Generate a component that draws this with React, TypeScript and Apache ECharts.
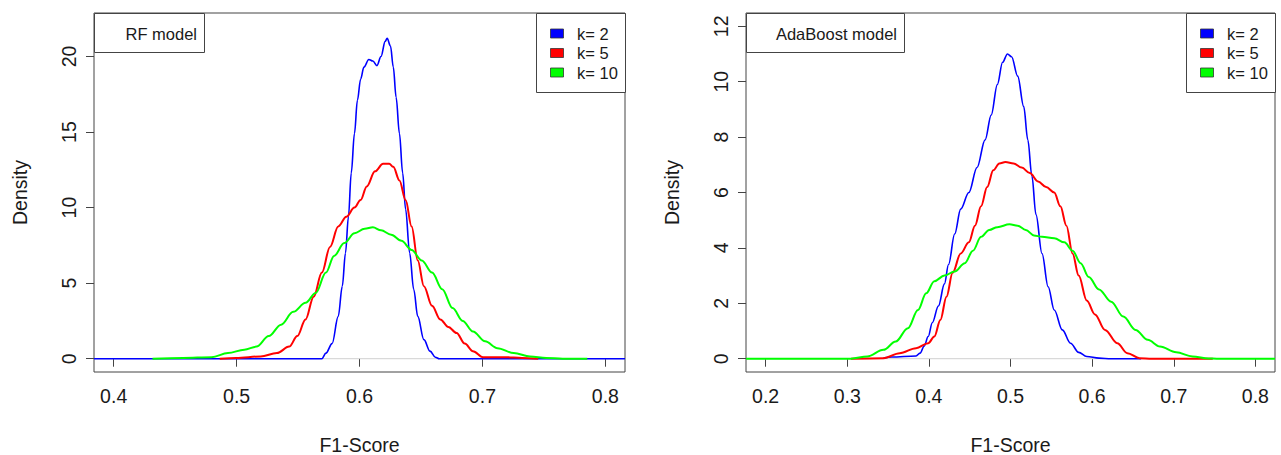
import React, { useEffect, useRef } from "react";
import * as echarts from "echarts";

// ---- data ----
const panelTitles = ["RF model", "AdaBoost model"];
const legendLabels = ["k= 2", "k= 5", "k= 10"];
const seriesColors = ["#0000ff", "#ff0000", "#00ff00"];

const rfXLim = [0.4, 0.8];
const rfYLim = [0, 22];
const rfXTicks = [0.4, 0.5, 0.6, 0.7, 0.8];
const rfYTicks = [0, 5, 10, 15, 20];

const adaXLim = [0.2, 0.8];
const adaYLim = [0, 12];
const adaXTicks = [0.2, 0.3, 0.4, 0.5, 0.6, 0.7, 0.8];
const adaYTicks = [0, 2, 4, 6, 8, 10, 12];

// RF model densities
const rfK2 = [
  [0.384, 0], [0.5694, 0], [0.5727, 0.37], [0.5777, 1.0], [0.5827, 2.8], [0.586, 4.8],
  [0.5886, 7.0], [0.591, 9.4], [0.5933, 12.3], [0.5959, 14.9], [0.5983, 17.1],
  [0.6009, 18.5], [0.6036, 19.3], [0.6076, 19.8], [0.6109, 19.7], [0.6142, 19.4],
  [0.6175, 20.0], [0.6209, 21.0], [0.6225, 21.2], [0.6252, 20.7], [0.6275, 19.3],
  [0.6298, 17.3], [0.6325, 14.9], [0.6351, 12.3], [0.6375, 9.9], [0.6408, 7.0],
  [0.6441, 4.6], [0.6474, 2.8], [0.6524, 1.26], [0.6574, 0.5], [0.6617, 0.1],
  [0.665, 0], [0.816, 0],
];
const rfK5 = [
  [0.4863, 0], [0.4996, 0.05], [0.5196, 0.15], [0.5328, 0.37], [0.5428, 0.8],
  [0.5494, 1.5], [0.5561, 2.6], [0.5627, 4.1], [0.5694, 5.7], [0.576, 7.4],
  [0.5827, 8.75], [0.5893, 9.4], [0.5959, 10.0], [0.6009, 10.5], [0.6059, 11.4],
  [0.6126, 12.4], [0.6192, 12.9], [0.6242, 12.9], [0.6275, 12.7], [0.6325, 11.8],
  [0.6375, 10.5], [0.6424, 8.75], [0.6474, 6.5], [0.6524, 4.8], [0.659, 3.5],
  [0.6657, 2.6], [0.6723, 2.1], [0.679, 1.7], [0.6856, 1.0], [0.6923, 0.5],
  [0.7006, 0.1], [0.7188, 0.1], [0.7321, 0.05], [0.7454, 0],
];
const rfK10 = [
  [0.4316, 0], [0.4565, 0.05], [0.4797, 0.1], [0.493, 0.37], [0.5063, 0.6],
  [0.5162, 0.8], [0.5262, 1.5], [0.5362, 2.25], [0.5461, 3.1], [0.5561, 3.7],
  [0.5644, 4.35], [0.5727, 5.7], [0.5793, 6.8], [0.5876, 7.65], [0.5959, 8.3],
  [0.6042, 8.6], [0.6109, 8.7], [0.6175, 8.5], [0.6258, 8.2], [0.6341, 7.8],
  [0.6424, 7.2], [0.6507, 6.5], [0.659, 5.7], [0.6673, 4.6], [0.6757, 3.35],
  [0.684, 2.5], [0.6923, 1.8], [0.7022, 1.15], [0.7122, 0.7], [0.7255, 0.37],
  [0.7388, 0.15], [0.752, 0.05], [0.7653, 0], [0.7853, 0],
];

// AdaBoost model densities
const adaK2 = [
  [0.3444, 0.02], [0.3544, 0.06], [0.3843, 0.1], [0.3892, 0.2], [0.3942, 0.45],
  [0.3992, 0.8], [0.4042, 1.3], [0.4117, 1.9], [0.4191, 2.7], [0.4241, 3.4],
  [0.4316, 4.5], [0.439, 5.4], [0.449, 6.0], [0.459, 6.9], [0.4689, 7.9],
  [0.4764, 8.8], [0.4839, 9.9], [0.4903, 10.7], [0.4963, 11.0], [0.5013, 10.9],
  [0.5088, 10.2], [0.5162, 9.1], [0.5212, 7.9], [0.5262, 6.6], [0.5312, 5.2],
  [0.5386, 3.8], [0.5461, 2.6], [0.5536, 1.76], [0.5635, 1.04], [0.5735, 0.56],
  [0.5835, 0.23], [0.5934, 0.08], [0.6084, 0.02], [0.6233, 0], [0.66, 0],
];
const adaK5 = [
  [0.3046, 0], [0.3444, 0.02], [0.3643, 0.2], [0.3843, 0.38], [0.3992, 0.56],
  [0.4067, 0.8], [0.4141, 1.4], [0.4216, 2.24], [0.4291, 3.1], [0.439, 3.8],
  [0.449, 4.2], [0.4565, 4.8], [0.4639, 5.5], [0.4714, 6.2], [0.4789, 6.8],
  [0.4863, 7.05], [0.4938, 7.1], [0.5038, 7.05], [0.5137, 6.9], [0.5237, 6.7],
  [0.5337, 6.4], [0.5436, 6.2], [0.5536, 6.0], [0.5611, 5.5], [0.5685, 4.8],
  [0.576, 3.8], [0.5835, 3.0], [0.5934, 2.1], [0.6034, 1.6], [0.6158, 1.04],
  [0.6308, 0.56], [0.6432, 0.2], [0.6582, 0.02], [0.6731, 0], [0.7478, 0],
];
const adaK10 = [
  [0.176, 0], [0.3046, 0], [0.3245, 0.08], [0.3444, 0.32], [0.3594, 0.62],
  [0.3743, 1.1], [0.3867, 1.76], [0.3967, 2.36], [0.4067, 2.8], [0.4191, 3.0],
  [0.4316, 3.15], [0.444, 3.45], [0.454, 3.9], [0.4639, 4.4], [0.4739, 4.65],
  [0.4839, 4.75], [0.4988, 4.85], [0.5088, 4.8], [0.5187, 4.65], [0.5287, 4.45],
  [0.5386, 4.4], [0.5536, 4.35], [0.566, 4.2], [0.576, 3.9], [0.5859, 3.45],
  [0.5959, 2.95], [0.6084, 2.5], [0.6233, 2.06], [0.6382, 1.52], [0.6532, 1.04],
  [0.6681, 0.68], [0.6831, 0.44], [0.703, 0.23], [0.7229, 0.08], [0.7428, 0.01],
  [0.7528, 0], [0.824, 0],
];

// ---- layout ----
const FONT = "'Liberation Sans', Arial, sans-serif";
const panels = [
  { left: 94, top: 13, width: 531, height: 359, xLim: rfXLim, yLim: rfYLim, xTicks: rfXTicks, yTicks: rfYTicks, series: [rfK2, rfK5, rfK10], xDec: 1 },
  { left: 746, top: 13, width: 529, height: 359, xLim: adaXLim, yLim: adaYLim, xTicks: adaXTicks, yTicks: adaYTicks, series: [adaK2, adaK5, adaK10], xDec: 1 },
];
const lineWidths = [1.6, 2, 2];

function ext(lim: number[]) {
  const d = (lim[1] - lim[0]) * 0.04;
  return [lim[0] - d, lim[1] + d];
}

export default function App() {
  const ref = useRef<HTMLDivElement>(null);
  useEffect(() => {
    if (!ref.current) return;
    const chart = echarts.init(ref.current, null, { renderer: "svg" });
    const grid: any[] = [];
    const xAxis: any[] = [];
    const yAxis: any[] = [];
    const series: any[] = [];
    const graphic: any[] = [];
    panels.forEach((p, i) => {
      const xr = ext(p.xLim);
      const yr = ext(p.yLim);
      grid.push({
        left: p.left, top: p.top, width: p.width, height: p.height,
        containLabel: false, outerBoundsMode: "none",
        show: true, borderColor: "#444", borderWidth: 1, backgroundColor: "transparent",
      });
      xAxis.push({
        type: "value", gridIndex: i, min: xr[0], max: xr[1],
        axisLine: { show: false },
        axisTick: { show: true, inside: false, length: 8, customValues: p.xTicks, lineStyle: { color: "#444" } },
        axisLabel: {
          show: true, customValues: p.xTicks, margin: 14, fontSize: 19.5, fontFamily: FONT, color: "#1a1a1a",
          formatter: (v: number) => v.toFixed(p.xDec),
        },
        splitLine: { show: false },
        name: "F1-Score", nameLocation: "middle", nameGap: 63,
        nameTextStyle: { fontSize: 19.5, lineHeight: 19, fontFamily: FONT, color: "#1a1a1a" },
      });
      yAxis.push({
        type: "value", gridIndex: i, min: yr[0], max: yr[1],
        axisLine: { show: false },
        axisTick: { show: true, inside: false, length: 8, customValues: p.yTicks, lineStyle: { color: "#444" } },
        axisLabel: {
          show: true, customValues: p.yTicks, margin: 15, rotate: 90, fontSize: 19.5, fontFamily: FONT, color: "#1a1a1a",
          formatter: (v: number) => String(Math.round(v)),
        },
        splitLine: { show: false },
        name: "Density", nameLocation: "middle", nameGap: 64, nameRotate: 90,
        nameTextStyle: { fontSize: 19.5, fontFamily: FONT, color: "#1a1a1a" },
      });
      // zero reference line
      series.push({
        type: "line", xAxisIndex: i, yAxisIndex: i, data: [[xr[0], 0], [xr[1], 0]],
        showSymbol: false, silent: true, lineStyle: { color: "#d0d0d0", width: 1 }, z: 1,
      });
      p.series.forEach((d, k) => {
        series.push({
          type: "line", name: legendLabels[k], xAxisIndex: i, yAxisIndex: i, data: d,
          showSymbol: false, smooth: 0.35, smoothMonotone: "x",
          lineStyle: { color: seriesColors[k], width: lineWidths[k] }, z: 2 + k,
        });
      });
      // title box
      const tW = i === 0 ? 110 : 158;
      graphic.push({
        type: "rect", z: 100, shape: { x: p.left + 0.5, y: p.top + 0.5, width: tW, height: 39 },
        style: { fill: "#fff", stroke: "#444", lineWidth: 1 },
      });
      graphic.push({
        type: "text", z: 101, x: p.left + tW - 7, y: p.top + 21,
        style: { text: panelTitles[i], fill: "#1a1a1a", font: `16.5px ${FONT}`, textAlign: "right", textVerticalAlign: "middle" },
      });
      // legend box
      const lW = 89;
      const lx = p.left + p.width - lW;
      graphic.push({
        type: "rect", z: 100, shape: { x: lx + 0.5, y: p.top + 0.5, width: lW, height: 79 },
        style: { fill: "#fff", stroke: "#444", lineWidth: 1 },
      });
      legendLabels.forEach((lab, k) => {
        const cy = p.top + 20.5 + k * 19.5;
        graphic.push({
          type: "rect", z: 101, shape: { x: lx + 14.5, y: cy - 4.5, width: 13, height: 9 },
          style: { fill: seriesColors[k], stroke: "#333", lineWidth: 0.8 },
        });
        graphic.push({
          type: "text", z: 101, x: lx + 41, y: cy,
          style: { text: lab, fill: "#1a1a1a", font: `16.5px ${FONT}`, textAlign: "left", textVerticalAlign: "middle" },
        });
      });
    });
    chart.setOption({
      animation: false,
      backgroundColor: "#ffffff",
      grid, xAxis, yAxis, series, graphic,
    });
    return () => chart.dispose();
  }, []);
  return (
    <div
      ref={ref}
      style={{ position: "fixed", left: 0, top: 0, width: 1281, height: 455, background: "#fff" }}
    />
  );
}
